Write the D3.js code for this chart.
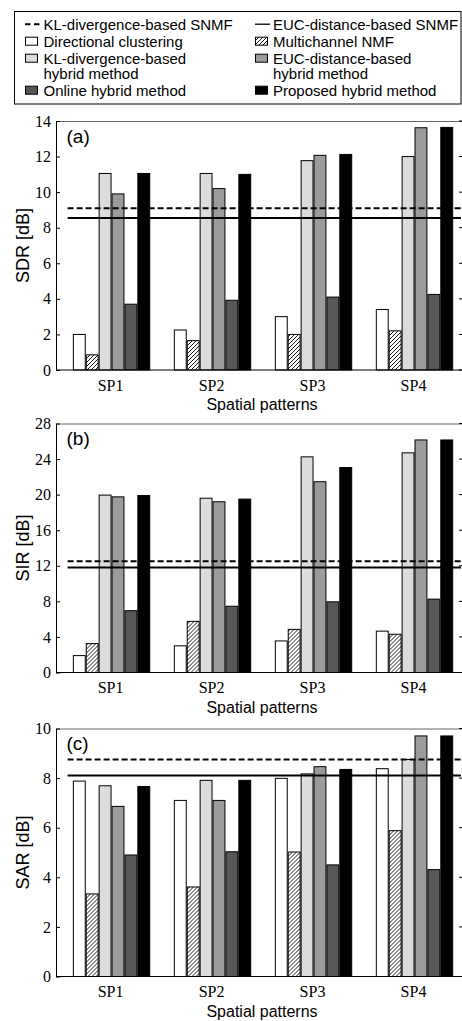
<!DOCTYPE html>
<html>
<head>
<meta charset="utf-8">
<script src="https://cdn.jsdelivr.net/npm/d3@7"></script>
<style>
body { margin: 0; background: #fff; }
svg { display: block; }
.tick text { font-family: "Liberation Serif", "Times New Roman", serif; font-size: 16px; fill: #000; }
</style>
</head>
<body>
<div id="chart"></div>
<script>
var categories = ["SP1", "SP2", "SP3", "SP4"];
var methods = ["Directional clustering", "Multichannel NMF",
    "KL-divergence-based hybrid method", "EUC-distance-based hybrid method",
    "Online hybrid method", "Proposed hybrid method"];
var refNames = ["KL-divergence-based SNMF", "EUC-distance-based SNMF"];

// one row per spatial pattern, one column per method
var sdrValues = [
    [2.0, 0.85, 11.05, 9.9, 3.7, 11.05],
    [2.25, 1.65, 11.05, 10.2, 3.92, 11.0],
    [3.0, 2.0, 11.77, 12.07, 4.1, 12.12],
    [3.4, 2.2, 12.0, 13.62, 4.25, 13.64]
];
var sirValues = [
    [1.9, 3.25, 19.95, 19.75, 6.95, 19.9],
    [3.0, 5.75, 19.6, 19.2, 7.45, 19.5],
    [3.55, 4.85, 24.25, 21.45, 7.95, 23.05],
    [4.65, 4.3, 24.7, 26.15, 8.25, 26.15]
];
var sarValues = [
    [7.88, 3.33, 7.69, 6.86, 4.9, 7.66],
    [7.1, 3.61, 7.91, 7.1, 5.03, 7.91],
    [7.99, 5.02, 8.17, 8.46, 4.5, 8.35],
    [8.38, 5.88, 8.75, 9.7, 4.31, 9.7]
];
// KL-SNMF, EUC-SNMF reference levels
var sdrRefs = [9.1, 8.55];
var sirRefs = [12.5, 11.8];
var sarRefs = [8.75, 8.1];

var sdrTicks = [0, 2, 4, 6, 8, 10, 12, 14];
var sirTicks = [0, 4, 8, 12, 16, 20, 24, 28];
var sarTicks = [0, 2, 4, 6, 8, 10];

var width = 462, height = 1021;
var left = 56, right = 462;

var svg = d3.select("#chart").append("svg")
    .attr("width", width)
    .attr("height", height);

var hatch = svg.append("defs").append("pattern")
    .attr("id", "hatch")
    .attr("patternUnits", "userSpaceOnUse")
    .attr("width", 4)
    .attr("height", 4);
hatch.append("rect").attr("width", 4).attr("height", 4).attr("fill", "#fff");
hatch.append("path")
    .attr("d", "M-1,1 l2,-2 M0,4 l4,-4 M3,5 l2,-2")
    .attr("stroke", "#000")
    .attr("stroke-width", 0.9);

var fills = ["#fff", "url(#hatch)", "#dcdcdc", "#9b9b9b", "#575757", "#000"];

var x = d3.scaleLinear().domain([0.45, 4.5]).range([56, 465]);
var pitch = 0.1277;
var bw = x(pitch) - x(0) - 1;

var panels = [
    {values: sdrValues, refs: sdrRefs, ticks: sdrTicks, label: "SDR [dB]", tag: "(a)", top: 121, h: 249},
    {values: sirValues, refs: sirRefs, ticks: sirTicks, label: "SIR [dB]", tag: "(b)", top: 423.5, h: 249},
    {values: sarValues, refs: sarRefs, ticks: sarTicks, label: "SAR [dB]", tag: "(c)", top: 728.5, h: 248}
];

panels.forEach(function(p) {
    var y = d3.scaleLinear().domain([0, d3.max(p.ticks)]).range([p.h, 0]);
    var g = svg.append("g").attr("transform", "translate(0," + p.top + ")");

    g.append("line")
        .attr("x1", left).attr("x2", right)
        .attr("y1", 0.5).attr("y2", 0.5)
        .attr("stroke", "#666");

    p.values.forEach(function(row, i) {
        g.selectAll(null)
            .data(row)
            .enter()
            .append("rect")
            .attr("x", (d, j) => x(i + 1 + (j - 2.5) * pitch) - bw / 2)
            .attr("width", bw)
            .attr("y", d => y(d))
            .attr("height", d => p.h - y(d))
            .attr("fill", (d, j) => fills[j])
            .attr("stroke", "#000")
            .attr("stroke-width", 1);
    });

    // SNMF reference levels
    g.append("line")
        .attr("x1", x(0.565)).attr("x2", x(4.5))
        .attr("y1", y(p.refs[0])).attr("y2", y(p.refs[0]))
        .attr("stroke", "#000")
        .attr("stroke-width", 2)
        .attr("stroke-dasharray", "6,3");
    g.append("line")
        .attr("x1", x(0.565)).attr("x2", x(4.46))
        .attr("y1", y(p.refs[1])).attr("y2", y(p.refs[1]))
        .attr("stroke", "#000")
        .attr("stroke-width", 2);

    g.append("g")
        .attr("transform", "translate(" + left + ",0)")
        .call(d3.axisLeft(y).tickValues(p.ticks).tickSizeInner(-4).tickSizeOuter(0).tickPadding(5))
        .call(a => a.select(".domain").attr("stroke", "#000"));

    g.selectAll(".rtick")
        .data(p.ticks)
        .enter()
        .append("line")
        .attr("class", "rtick")
        .attr("x1", right - 3).attr("x2", right)
        .attr("y1", d => y(d)).attr("y2", d => y(d))
        .attr("stroke", "#000");

    g.append("line")
        .attr("x1", left).attr("x2", right)
        .attr("y1", p.h).attr("y2", p.h)
        .attr("stroke", "#000");

    g.selectAll(".cat")
        .data(categories)
        .enter()
        .append("text")
        .attr("class", "cat")
        .attr("x", (d, i) => x(i + 1) - 1)
        .attr("y", p.h + 20.5)
        .attr("text-anchor", "middle")
        .style("font-family", "'Liberation Serif', serif")
        .style("font-size", "16px")
        .text(d => d);

    g.append("text")
        .attr("x", 262)
        .attr("y", p.h + 40)
        .attr("text-anchor", "middle")
        .style("font-family", "'Liberation Sans', Arial, sans-serif")
        .style("font-size", "16px")
        .text("Spatial patterns");

    g.append("text")
        .attr("x", 66.5)
        .attr("y", 21.7)
        .style("font-family", "'Liberation Sans', Arial, sans-serif")
        .style("font-size", "19px")
        .text(p.tag);

    g.append("text")
        .attr("transform", "translate(22.7," + (p.h / 2) + ") rotate(-90)")
        .attr("dy", "0.35em")
        .attr("text-anchor", "middle")
        .style("font-family", "'Liberation Sans', Arial, sans-serif")
        .style("font-size", "18px")
        .text(p.label);
});

// legend
var legend = svg.append("g");
legend.append("rect")
    .attr("x", 14.5).attr("y", 11.5)
    .attr("width", 446.5).attr("height", 92.5)
    .attr("fill", "#fff")
    .attr("stroke", "#000");

var colIcon = [25, 255], colText = [43.5, 273];
var rowBase = [29.5, 46.5, 63.5, 95.5];

function legendText(col, row, lines) {
    lines.forEach(function(s, k) {
        legend.append("text")
            .attr("x", colText[col])
            .attr("y", rowBase[row] + k * 15.5)
            .style("font-family", "'Liberation Sans', Arial, sans-serif")
            .style("font-size", "15px")
            .text(s);
    });
}

refNames.forEach(function(name, k) {
    var cy = rowBase[0] - 5.3;
    legend.append("line")
        .attr("x1", colIcon[k]).attr("x2", colIcon[k] + 15)
        .attr("y1", cy).attr("y2", cy)
        .attr("stroke", "#000")
        .attr("stroke-width", k ? 1.3 : 2)
        .attr("stroke-dasharray", k ? null : "5.5,3.5");
    legendText(k, 0, [name]);
});

methods.forEach(function(name, j) {
    var col = j % 2, row = 1 + Math.floor(j / 2);
    var cy = rowBase[row] - 5.3;
    legend.append("rect")
        .attr("x", colIcon[col] + 0.5).attr("y", cy - 4)
        .attr("width", 12).attr("height", 8)
        .attr("fill", fills[j])
        .attr("stroke", "#000");
    var idx = name.indexOf(" hybrid method");
    var lines = (name.indexOf("-based") > 0 && idx > 0) ? [name.slice(0, idx), name.slice(idx + 1)] : [name];
    legendText(col, row, lines);
});
</script>
</body>
</html>
